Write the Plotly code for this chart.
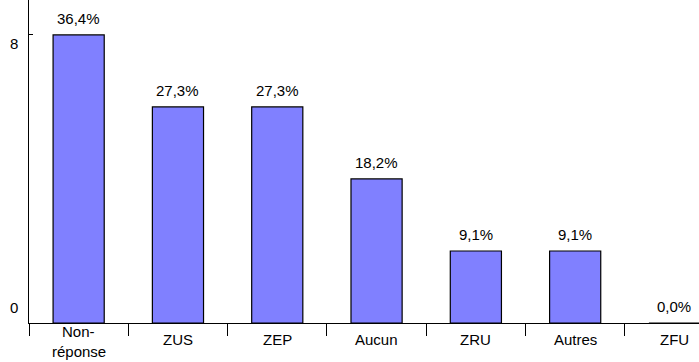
import plotly.graph_objects as go

# Answers per zone type (respondent counts, total = 22)
categories = ["Non-<br>réponse", "ZUS", "ZEP", "Aucun", "ZRU", "Autres", "ZFU"]
counts = [8, 6, 6, 4, 2, 2, 0]
total = 22
y_ticks = [0, 8]
y_tick_shift = [16, -9]  # vertical offset of each y tick label

FONT = "Liberation Sans, Arial, sans-serif"
pct_labels = [f"{c / total * 100:.1f}%".replace(".", ",") for c in counts]

fig = go.Figure()
fig.add_trace(go.Bar(
    x=categories,
    y=counts,
    width=0.515,
    marker=dict(color="#8080FF", line=dict(color="black", width=1.2)),
    hoverinfo="skip",
))

# Percentage labels above each bar
for cat, c, lab in zip(categories, counts, pct_labels):
    fig.add_annotation(x=cat, y=c, text=lab, showarrow=False,
                       yanchor="bottom", yshift=6,
                       font=dict(family=FONT, size=15, color="black"))

# Category labels under the axis; wrapped labels are stacked upward from the
# bottom edge of the figure, one annotation per line
for cat in categories:
    lines = cat.split("<br>")
    n = len(lines)
    for i, line in enumerate(lines):
        if n == 1:
            pos = dict(yanchor="middle", yshift=-16)
        else:
            pos = dict(yanchor="bottom", yshift=-38 + 20 * (n - 1 - i))
        fig.add_annotation(x=cat, y=0, text=line, showarrow=False,
                           borderpad=0, **pos,
                           font=dict(family=FONT, size=15, color="black"))

# Y tick labels
for t, s in zip(y_ticks, y_tick_shift):
    fig.add_annotation(x=0, xref="paper", y=t, yref="y", text=str(t),
                       showarrow=False, xanchor="right", xshift=-9, yshift=s,
                       font=dict(family=FONT, size=15, color="black"))

fig.update_layout(
    width=699, height=362,
    margin=dict(l=29, r=0, t=0, b=39, autoexpand=False),
    paper_bgcolor="white", plot_bgcolor="white",
    showlegend=False,
    font=dict(family=FONT, size=15, color="black"),
    xaxis=dict(
        type="category",
        range=[-0.5, 6.247],
        automargin=False,
        tickson="boundaries",
        ticks="outside", ticklen=12, tickwidth=1.2, tickcolor="black",
        showticklabels=False,
        showline=True, linecolor="black", linewidth=1.2,
        showgrid=False, zeroline=False,
    ),
    yaxis=dict(
        range=[0, 8.97],
        automargin=False,
        tickvals=y_ticks, showticklabels=False,
        ticks="inside", ticklen=4, tickwidth=1.2, tickcolor="black",
        showline=True, linecolor="black", linewidth=1.2,
        showgrid=False, zeroline=False,
    ),
)

fig.write_html("out.html")
